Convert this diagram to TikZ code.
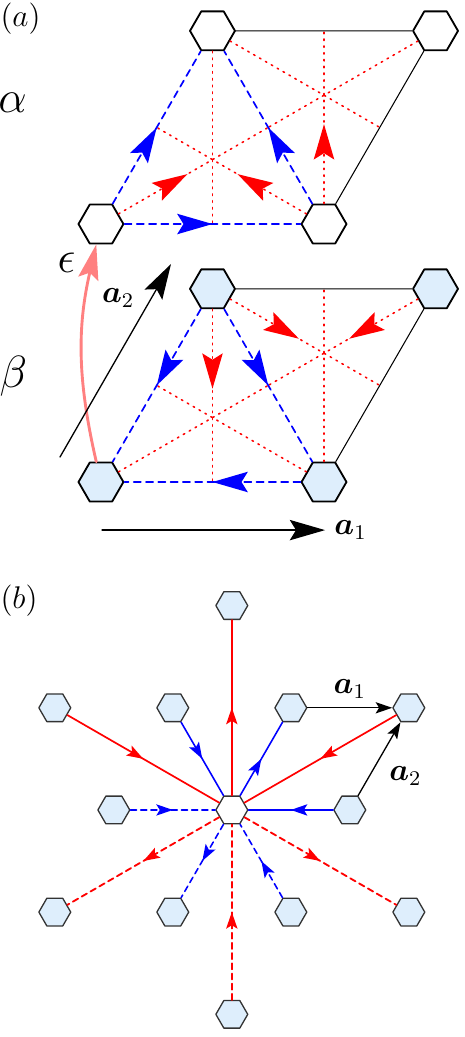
\documentclass[tikz,border=0pt]{standalone}
\usepackage{amsmath}
\usepackage{bm}
\usetikzlibrary{calc}
\usetikzlibrary{arrows.meta, shapes.geometric}
\usetikzlibrary{decorations.markings}
\definecolor{hexblue}{RGB}{222,238,252}

\begin{document}
\begin{tikzpicture}[
  x=1cm,y=1cm,
  line cap=round,line join=round,
  >=Latex
]
  \tikzset{
    bigtip/.tip={Stealth[length=13.5pt,width=7.8pt,inset=2.4pt]},
    smalltip/.tip={Stealth[length=6.3pt,width=4.3pt,inset=1.3pt]},
    hexa/.style={regular polygon,regular polygon sides=6,draw=black,line width=0.7pt,fill=white,minimum size=17.2pt,inner sep=0pt},
    hexb/.style={hexa,fill=hexblue},
    hexs/.style={regular polygon,regular polygon sides=6,draw=black!80,line width=0.5pt,fill=hexblue,minimum size=12.2pt,inner sep=0pt},
    bond/.style={line width=0.4pt},
    hop/.style={blue,line width=0.65pt,dash pattern=on 2.7pt off 2pt},
    med/.style={red,line width=0.6pt,dash pattern=on 0.6pt off 2pt},
    mid/.style={postaction={decorate,decoration={markings,mark=at position #1 with {\arrow{bigtip}}}}},
    smid/.style={postaction={decorate,decoration={markings,mark=at position 0.5 with {\arrow{smalltip}}}}},
    eps/.style={red!50,line width=1.1pt,-bigtip},
    vec/.style={line width=0.5pt,-bigtip},
    svec/.style={line width=0.5pt,-smalltip},
    rsol/.style={red,line width=0.65pt,smid},
    bsol/.style={blue,line width=0.6pt,smid},
    rdash/.style={red,line width=0.7pt,dash pattern=on 2.3pt off 1.6pt,smid},
    bdash/.style={blue,line width=0.6pt,dash pattern=on 2.3pt off 1.6pt,smid},
    big/.style={font=\fontsize{16}{19}\selectfont},
    panel/.style={anchor=north west,inner sep=0pt,font=\fontsize{13}{15}\selectfont}
  }
  \useasboundingbox (0,0) rectangle (6.254,-13.948);

  % (a): layer alpha
  \coordinate (oa) at (1.358,-3.013);
  \node[hexa] (aBL) at (oa) {};
  \node[hexa] (aBR) at ($(oa)+(3,0)$) {};
  \node[hexa] (aTL) at ($(oa)+(1.5,2.598)$) {};
  \node[hexa] (aTR) at ($(oa)+(4.5,2.598)$) {};
  \coordinate (aL) at ($(aBL)!0.5!(aTL)$);
  \coordinate (aB) at ($(aBL)!0.5!(aBR)$);
  \coordinate (aD) at ($(aTL)!0.5!(aBR)$);
  \coordinate (aT) at ($(aTL)!0.5!(aTR)$);
  \coordinate (aR) at ($(aTR)!0.5!(aBR)$);

  \draw[med] (aTL) -- (aB);
  \draw[med,mid=0.46] (aBL) -- (aD);
  \draw[med,mid=0.46] (aBR) -- (aL);
  \draw[med,mid=0.46] (aBR) -- (aT);
  \draw[med] (aTL) -- (aR);
  \draw[med] (aTR) -- (aD);
  \draw[bond] (aTL) -- (aTR) -- (aBR);
  \draw[hop,mid=0.5] (aBL) -- (aBR);
  \draw[hop,mid=0.5] (aBL) -- (aTL);
  \draw[hop,mid=0.5] (aBR) -- (aTL);

  % (a): layer beta
  \coordinate (ob) at (1.358,-6.483);
  \node[hexb] (bBL) at (ob) {};
  \node[hexb] (bBR) at ($(ob)+(3,0)$) {};
  \node[hexb] (bTL) at ($(ob)+(1.5,2.598)$) {};
  \node[hexb] (bTR) at ($(ob)+(4.5,2.598)$) {};
  \coordinate (bL) at ($(bBL)!0.5!(bTL)$);
  \coordinate (bB) at ($(bBL)!0.5!(bBR)$);
  \coordinate (bD) at ($(bTL)!0.5!(bBR)$);
  \coordinate (bT) at ($(bTL)!0.5!(bTR)$);
  \coordinate (bR) at ($(bTR)!0.5!(bBR)$);

  \draw[med,mid=0.46] (bTL) -- (bB);
  \draw[med] (bBL) -- (bD);
  \draw[med] (bBR) -- (bL);
  \draw[med] (bBR) -- (bT);
  \draw[med,mid=0.46] (bTL) -- (bR);
  \draw[med,mid=0.46] (bTR) -- (bD);
  \draw[bond] (bTL) -- (bTR) -- (bBR);
  \draw[hop,mid=0.5] (bBR) -- (bBL);
  \draw[hop,mid=0.5] (bTL) -- (bBL);
  \draw[hop,mid=0.5] (bTL) -- (bBR);

  % interlayer hop and lattice vectors
  \draw[eps] (bBL) to[bend left=13] (aBL);
  \coordinate (a1s) at (1.372,-7.13);
  \coordinate (a1e) at (4.372,-7.13);
  \coordinate (a2s) at (0.807,-6.147);
  \coordinate (a2e) at (2.30,-3.551);
  \draw[vec] (a1s) -- (a1e) node[right,font=\large] (a1l) {$\bm{a}_1$};
  \draw[vec] (a2s) -- (a2e);

  % labels
  \node[panel] (laba) at (0,-0.03) {$(a)$};
  \node[big] (alph) at (0.17,-1.38) {$\alpha$};
  \node[big] (bet) at (0.18,-5.06) {$\beta$};
  \node[big] (epsl) at (0.894,-3.53) {$\epsilon$};
  \node[font=\large] (a2l) at (1.59,-4.01) {$\bm{a}_2$};
  \node[panel] (labb) at (0,-7.86) {$(b)$};

  % (b): neighbours of one site
  \coordinate (oc) at (3.118,-10.894);
  \node[hexs,fill=white] (c) at (oc) {};
  \node[hexs] (n0) at ($(oc)+(0,2.749)$) {};
  \node[hexs] (u1) at ($(oc)+(-2.381,1.374)$) {};
  \node[hexs] (u2) at ($(oc)+(-0.794,1.374)$) {};
  \node[hexs] (u3) at ($(oc)+(0.794,1.374)$) {};
  \node[hexs] (u4) at ($(oc)+(2.381,1.374)$) {};
  \node[hexs] (m1) at ($(oc)+(-1.587,0)$) {};
  \node[hexs] (m2) at ($(oc)+(1.587,0)$) {};
  \node[hexs] (d1) at ($(oc)+(-2.381,-1.374)$) {};
  \node[hexs] (d2) at ($(oc)+(-0.794,-1.374)$) {};
  \node[hexs] (d3) at ($(oc)+(0.794,-1.374)$) {};
  \node[hexs] (d4) at ($(oc)+(2.381,-1.374)$) {};
  \node[hexs] (s0) at ($(oc)+(0,-2.749)$) {};

  \draw[rsol] (c) -- (n0);
  \draw[rsol] (u1) -- (c);
  \draw[bsol] (u2) -- (c);
  \draw[bsol] (c) -- (u3);
  \draw[rsol] (u4) -- (c);
  \draw[bsol] (m2) -- (c);
  \draw[bdash] (m1) -- (c);
  \draw[rdash] (c) -- (d1);
  \draw[bdash] (c) -- (d2);
  \draw[bdash] (d3) -- (c);
  \draw[rdash] (c) -- (d4);
  \draw[rdash] (s0) -- (c);

  \draw[svec] (u3) -- node[above,font=\large] (a1b) {$\bm{a}_1$} (u4);
  \draw[svec] (m2) -- node[pos=0.27,right=4pt,font=\large] (a2b) {$\bm{a}_2$} (u4);
\end{tikzpicture}
\end{document}
